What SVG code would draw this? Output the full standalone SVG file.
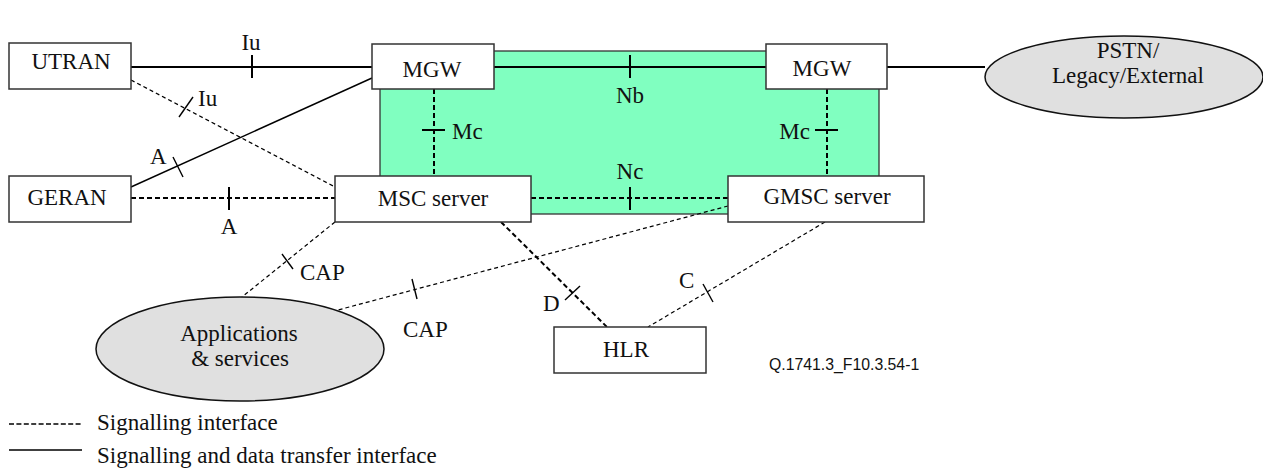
<svg xmlns="http://www.w3.org/2000/svg" width="1263" height="475" viewBox="0 0 1263 475">
<style>
.box{fill:#fff;stroke:#333;stroke-width:1.5}
.ell{fill:#e0e0e0;stroke:#111;stroke-width:1.5}
.t{font-family:"Liberation Serif","Times New Roman",serif;font-size:23px;fill:#111}
.c{text-anchor:middle}
.solid{stroke:#000;stroke-width:2;fill:none}
.solidt{stroke:#000;stroke-width:1.4;fill:none}
.dash{stroke:#000;stroke-width:2;stroke-dasharray:5 3;fill:none}
.dasht{stroke:#000;stroke-width:1.2;stroke-dasharray:4 3;fill:none}
.tick{stroke:#000;stroke-width:2;fill:none}
.tickt{stroke:#000;stroke-width:1.4;fill:none}
</style>
<rect id="core" x="380" y="51" width="499" height="163" fill="#80ffc0" stroke="#333" stroke-width="1.3"/>
<g id="connectors">
  <line class="solid" x1="131" y1="67" x2="372" y2="67"/>
  <line class="tick" x1="252" y1="55" x2="252" y2="78"/>
  <line class="solid" x1="494" y1="67" x2="766" y2="67"/>
  <line class="tick" x1="630" y1="55" x2="630" y2="78"/>
  <line class="solid" x1="887" y1="67" x2="985" y2="67"/>
  <line class="dasht" x1="131" y1="80" x2="335" y2="187"/>
  <line class="tickt" x1="193" y1="97" x2="179" y2="117"/>
  <line class="solidt" x1="131" y1="187" x2="372" y2="78"/>
  <line class="tickt" x1="173" y1="157" x2="183" y2="177"/>
  <line class="dash" x1="434" y1="89" x2="434" y2="176"/>
  <line class="tick" x1="422" y1="130" x2="445" y2="130"/>
  <line class="dash" x1="827" y1="89" x2="827" y2="176"/>
  <line class="tick" x1="815" y1="130" x2="838" y2="130"/>
  <line class="dash" x1="131" y1="198" x2="335" y2="198"/>
  <line class="tick" x1="229" y1="187" x2="229" y2="210"/>
  <line class="dash" x1="531" y1="198" x2="728" y2="198"/>
  <line class="tick" x1="630" y1="187" x2="630" y2="210"/>
  <line class="dasht" x1="335" y1="222" x2="242" y2="297"/>
  <line class="tickt" x1="282" y1="254" x2="293" y2="269"/>
  <line class="dasht" x1="728" y1="206" x2="338" y2="310"/>
  <line class="tickt" x1="412" y1="279" x2="417" y2="299"/>
  <line class="dash" x1="501" y1="222" x2="607" y2="327"/>
  <line class="tickt" x1="565" y1="300" x2="580" y2="286"/>
  <line class="dasht" x1="825" y1="222" x2="648" y2="327"/>
  <line class="tickt" x1="703" y1="284" x2="713" y2="302"/>
</g>
<g id="labels">
  <text class="t c" x="251" y="50">Iu</text>
  <text class="t c" x="630" y="103">Nb</text>
  <text class="t" x="198" y="106">Iu</text>
  <text class="t" x="150" y="164">A</text>
  <text class="t" x="452" y="139">Mc</text>
  <text class="t" x="810" y="139" text-anchor="end">Mc</text>
  <text class="t c" x="630" y="179">Nc</text>
  <text class="t c" x="229" y="234">A</text>
  <text class="t" x="300" y="280">CAP</text>
  <text class="t" x="403" y="337">CAP</text>
  <text class="t" x="543" y="311">D</text>
  <text class="t" x="679" y="288">C</text>
</g>
<g id="utran"><rect class="box" x="9" y="43" width="122" height="46"/><text class="t c" x="71" y="69">UTRAN</text></g>
<g id="mgw1"><rect class="box" x="372" y="44" width="122" height="45"/><text class="t c" x="432" y="77">MGW</text></g>
<g id="mgw2"><rect class="box" x="766" y="44" width="121" height="45"/><text class="t c" x="822" y="76">MGW</text></g>
<g id="pstn"><ellipse class="ell" cx="1124" cy="77" rx="139" ry="41"/><text class="t c" x="1128" y="58">PSTN/</text><text class="t c" x="1128" y="83">Legacy/External</text></g>
<g id="geran"><rect class="box" x="9" y="176" width="122" height="46"/><text class="t c" x="67" y="205">GERAN</text></g>
<g id="msc"><rect class="box" x="335" y="176" width="196" height="46"/><text class="t c" x="433" y="206">MSC server</text></g>
<g id="gmsc"><rect class="box" x="728" y="176" width="196" height="46"/><text class="t c" x="827" y="204">GMSC server</text></g>
<g id="hlr"><rect class="box" x="554" y="327" width="152" height="46"/><text class="t c" x="626" y="357">HLR</text></g>
<g id="apps"><ellipse class="ell" cx="240" cy="349" rx="144" ry="52"/><text class="t c" x="239" y="341">Applications</text><text class="t c" x="240" y="366">&amp; services</text></g>
<text x="769" y="370" style="font-family:'Liberation Sans',Arial,sans-serif;font-size:15.8px;fill:#111">Q.1741.3_F10.3.54-1</text>
<g id="legend">
  <line x1="9" y1="424" x2="82" y2="424" stroke="#000" stroke-width="1.3" stroke-dasharray="5 2.4"/>
  <text class="t" x="97" y="430">Signalling interface</text>
  <line x1="9" y1="450" x2="82" y2="450" stroke="#000" stroke-width="1.5"/>
  <text class="t" x="97" y="463">Signalling and data transfer interface</text>
</g>
</svg>
